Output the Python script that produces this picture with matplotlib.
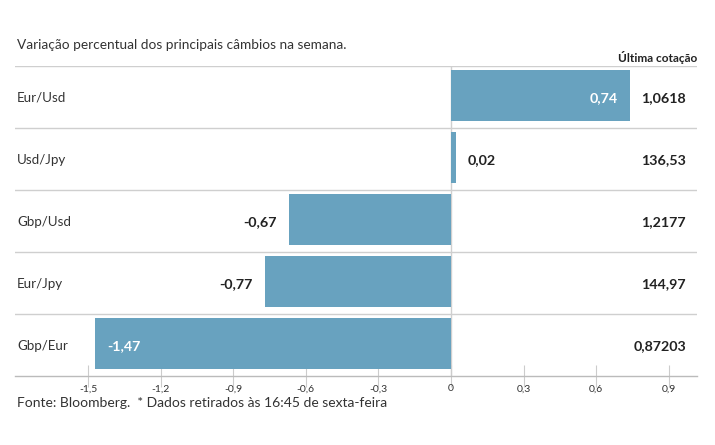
import matplotlib
matplotlib.use("Agg")
import matplotlib.pyplot as plt

plt.rcParams['font.family'] = ['Lato', 'DejaVu Sans']

pairs = ["Eur/Usd", "Usd/Jpy", "Gbp/Usd", "Eur/Jpy", "Gbp/Eur"]
changes = [0.74, 0.02, -0.67, -0.77, -1.47]
quotes = ["1,0618", "136,53", "1,2177", "144,97", "0,87203"]
ticks = [-1.5, -1.2, -0.9, -0.6, -0.3, 0, 0.3, 0.6, 0.9]
tick_labels = ["-1,5", "-1,2", "-0,9", "-0,6", "-0,3", "0", "0,3", "0,6", "0,9"]

W, H = 715, 445
fig = plt.figure(figsize=(W / 100, H / 100), dpi=100)
left_px, right_px, top_px, bot_px = 15, 697, 66, 376
ax = fig.add_axes([left_px / W, 1 - bot_px / H, (right_px - left_px) / W, (bot_px - top_px) / H])

zero_px, unit_px = 451, 242
ax.set_xlim((left_px - zero_px) / unit_px, (right_px - zero_px) / unit_px)
ax.set_ylim(len(pairs), 0)

bar_color = "#68a2bf"
grid_color = "#cfcfcf"
text_color = "#333333"

ys = [i + 0.5 for i in range(len(pairs))]
ax.barh([y - 0.02 for y in ys], changes, height=0.83, color=bar_color, zorder=2)

# row separators
for i in range(len(pairs)):
    ax.axhline(i, color=grid_color, lw=1, zorder=1)
ax.axvline(0, color=grid_color, lw=1, zorder=1)

for spine in ["top", "right", "left"]:
    ax.spines[spine].set_visible(False)
ax.spines["bottom"].set_color("#bbbbbb")
ax.spines["bottom"].set_linewidth(1)

ax.set_yticks([])
ax.set_xticks(ticks)
ax.set_xticklabels(tick_labels, fontsize=7.5, color=text_color)
ax.tick_params(axis="x", direction="inout", length=16, width=0.8, color="#cccccc", pad=-2)

xmin = ax.get_xlim()[0]
xmax = ax.get_xlim()[1]
VA = "center_baseline"
for y, name, v, q in zip(ys, pairs, changes, quotes):
    ax.text(xmin + 2 / unit_px, y, name, fontsize=9.6, color=text_color,
            ha="left", va=VA)
    ax.text(xmax - 11 / unit_px, y, q, fontsize=10.3, color="#222222",
            ha="right", va=VA, fontweight="bold")
    lab = f"{v:.2f}".replace(".", ",")
    off = 12 / unit_px
    if v >= 0:
        if v > 0.5:
            ax.text(v - off, y, lab, color="white", fontsize=10.3, fontweight="bold",
                    ha="right", va=VA, zorder=3)
        else:
            ax.text(v + off, y, lab, color="#222222", fontsize=10.3, fontweight="bold",
                    ha="left", va=VA, zorder=3)
    else:
        if v < -1.2:
            ax.text(v + off, y, lab, color="white", fontsize=10.3, fontweight="bold",
                    ha="left", va=VA, zorder=3)
        else:
            ax.text(v - off, y, lab, color="#222222", fontsize=10.3, fontweight="bold",
                    ha="right", va=VA, zorder=3)

fig.text(17 / W, 1 - 45 / H, "Variação percentual dos principais câmbios na semana.",
         fontsize=9.8, color=text_color, ha="left", va="center")
fig.text(697 / W, 1 - 57 / H, "Última cotação", fontsize=8.6, color="#222222",
         fontweight="bold", ha="right", va="center")
fig.text(17 / W, 1 - 403 / H, "Fonte: Bloomberg.  * Dados retirados às 16:45 de sexta-feira",
         fontsize=10, color=text_color, ha="left", va="center")

fig.savefig("out.png", dpi=100, facecolor="white")
